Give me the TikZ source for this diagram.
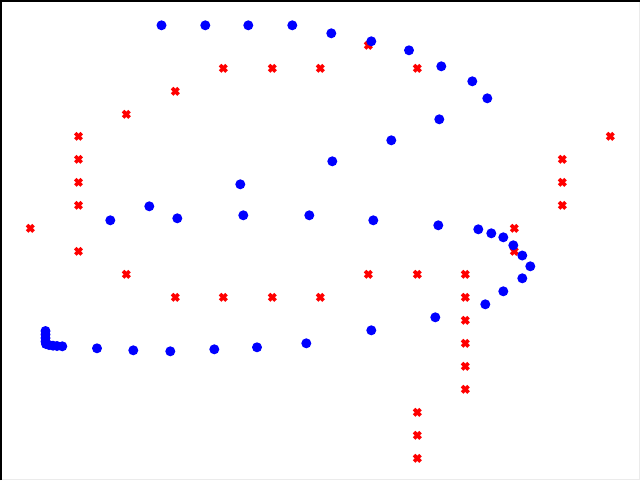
\documentclass[tikz,border=0pt]{standalone}
\usetikzlibrary{calc}
\definecolor{dotblue}{RGB}{0,0,255}
\definecolor{xred}{RGB}{255,0,0}
\definecolor{framegray}{RGB}{235,235,235}
\tikzset{
  dotmark/.style={fill=dotblue,draw=none},
  xmark/.style={draw=xred,line width=3.6pt},
}
\begin{document}
\begin{tikzpicture}[x=1pt,y=-1pt]
\useasboundingbox (0,0) rectangle (640,480);
\fill[white] (0,0) rectangle (640,480);
% frame
\draw[framegray,line width=1pt] (639.5,0) -- (639.5,479.5) -- (0,479.5);
\draw[black,line width=1.6pt] (0.8,480) -- (0.8,0.8) -- (640,0.8);
% red crosses
\foreach \x/\y in {223.3/68.3,272.3/68.3,320.3/68.3,368.3/45.3,417.3/68.3,
  175.3/91.3,126.3/114.3,78.5/136.3,78.5/159.3,78.5/182.3,78.5/205.3,30.3/228.3,
  78.5/251.3,126.3/274.3,175.3/297.3,223.3/297.3,272.3/297.3,320.3/297.3,
  368.3/274.3,417.3/274.3,465.3/274.3,465.3/297.3,465.3/320.3,465.3/343.3,
  465.3/366.3,465.3/389.3,417.3/412.3,417.3/435.3,417.3/458.3,514.3/228.3,
  514.3/251.3,562.3/159.3,562.3/182.3,562.3/205.3,610.3/136.3}
  \draw[xmark] (\x-3.2,\y-3.2) -- (\x+3.2,\y+3.2) (\x-3.2,\y+3.2) -- (\x+3.2,\y-3.2);
% blue dots
\foreach \x/\y in {161.5/25.3,205.3/25.3,248.3/25.3,292.3/25.3,331.3/33.3,
  371.3/41.3,409/50.3,441.3/66.3,472.3/81.3,487.3/98.3,439.3/119.3,391.3/140.3,
  332.3/161.3,240.3/184.3,149.3/206.3,110.3/220.3,177.3/218.3,243.3/215.3,
  309.3/215.3,373.3/220.3,438.3/225.3,478.3/229.3,491.3/233.3,503.3/237.3,
  513.3/245.3,522.3/255.5,530.3/266.3,522.3/278.3,503.3/291.3,485.3/304.3,
  435.3/317.3,371.3/330.3,306.3/343.3,257/347.3,214.3/349.3,170.3/351.3,
  133.3/350.3,97/348.3,62.3/346.3,45.5/331,45.5/334.5,45.5/338,45.5/341.5,
  46/344,49/345,53/345.7,57/346}
  \fill[dotmark] (\x,\y) circle (5);
\end{tikzpicture}
\end{document}
